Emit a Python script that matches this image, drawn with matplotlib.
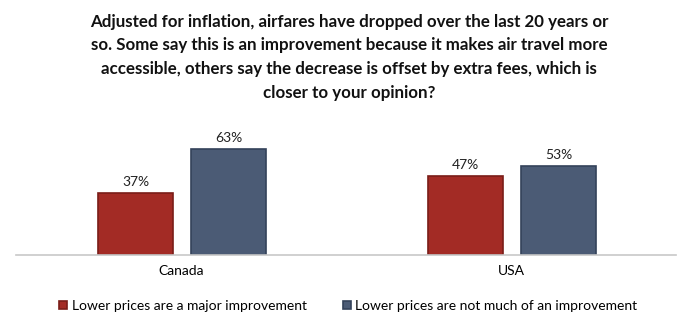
import matplotlib.pyplot as plt
import numpy as np

plt.rcParams['font.family'] = ['Lato', 'DejaVu Sans']

title = ("Adjusted for inflation, airfares have dropped over the last 20 years or\n"
         "so. Some say this is an improvement because it makes air travel more\n"
         "accessible, others say the decrease is offset by extra fees, which is\n"
         "closer to your opinion?")

countries = ['Canada', 'USA']
series_names = ['Lower prices are a major improvement',
                'Lower prices are not much of an improvement']
major = [37, 47]
not_much = [63, 53]

colors = ['#a32b25', '#4b5b75']
edges = ['#7a1d18', '#34425a']

fig = plt.figure(figsize=(6.94, 3.32), dpi=100)
ax = fig.add_axes([16 / 694, (332 - 255) / 332, 660 / 694, 118 / 332])

x = np.arange(len(countries))
w = 0.227
offsets = [-0.138, 0.144]
for vals, off, c, ec, name in zip([major, not_much], offsets, colors, edges, series_names):
    bars = ax.bar(x + off, vals, width=w, color=c, edgecolor=ec, linewidth=1.2, label=name)
    for b, v in zip(bars, vals):
        ax.text(b.get_x() + b.get_width() / 2, v + 3, f'{v}%', ha='center', va='bottom',
                fontsize=10, color='#222222')

ax.set_xlim(-0.5, 1.5)
ax.set_ylim(0, 70)
ax.set_yticks([])
ax.set_xticks(x)
ax.set_xticklabels(countries, fontsize=10)
ax.tick_params(axis='x', length=0, pad=7)
for s in ['top', 'right', 'left']:
    ax.spines[s].set_visible(False)
ax.spines['bottom'].set_color('#c8c8c8')
ax.spines['bottom'].set_linewidth(1.2)

fig.text(0.503, 0.958, title, ha='center', va='top', fontsize=12.2, fontweight='bold',
         linespacing=1.58, color='#111111')

fig.legend(loc='center', bbox_to_anchor=(0.502, 0.078), ncol=2, frameon=False,
           fontsize=10, handlelength=0.55, handleheight=0.55, handletextpad=0.35,
           columnspacing=2.6)

fig.savefig('out.png', dpi=100)
